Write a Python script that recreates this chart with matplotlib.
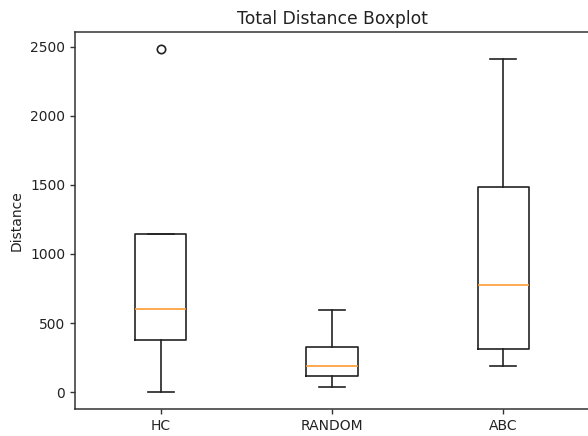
import matplotlib
matplotlib.use("Agg")
import matplotlib.pyplot as plt

labels = ["HC", "RANDOM", "ABC"]
medians = [600, 186, 772]
q1s = [380, 115, 312]
q3s = [1147, 327, 1485]
whislo = [2, 40, 187]
whishi = [1147, 594, 2410]
fliers = [[2483], [], []]

stats = []
for i, lab in enumerate(labels):
    stats.append({
        "label": lab,
        "med": medians[i],
        "q1": q1s[i],
        "q3": q3s[i],
        "whislo": whislo[i],
        "whishi": whishi[i],
        "fliers": fliers[i],
    })

lw = 1.2
ink = "#222222"

fig = plt.figure(figsize=(5.88, 4.36), dpi=100)
# the reference is cropped on the right, so the axes reaches the figure edge
ax = fig.add_axes([75 / 588, 1 - 409 / 436, 514 / 588, 377 / 436])
ax.bxp(stats,
       boxprops=dict(linewidth=lw, color=ink),
       whiskerprops=dict(linewidth=lw, color=ink),
       capprops=dict(linewidth=lw, color=ink),
       medianprops=dict(linewidth=lw, color="#ff9933"),
       flierprops=dict(markeredgewidth=lw, markeredgecolor=ink))
ax.set_title("Total Distance Boxplot", fontsize=12.3, color=ink)
ax.set_ylabel("Distance", labelpad=5, color=ink)
for sp in ax.spines.values():
    sp.set_linewidth(1.1)
    sp.set_color("#333333")
ax.tick_params(width=1.0, colors="#333333", labelcolor=ink)

fig.savefig("out.png", dpi=100)
